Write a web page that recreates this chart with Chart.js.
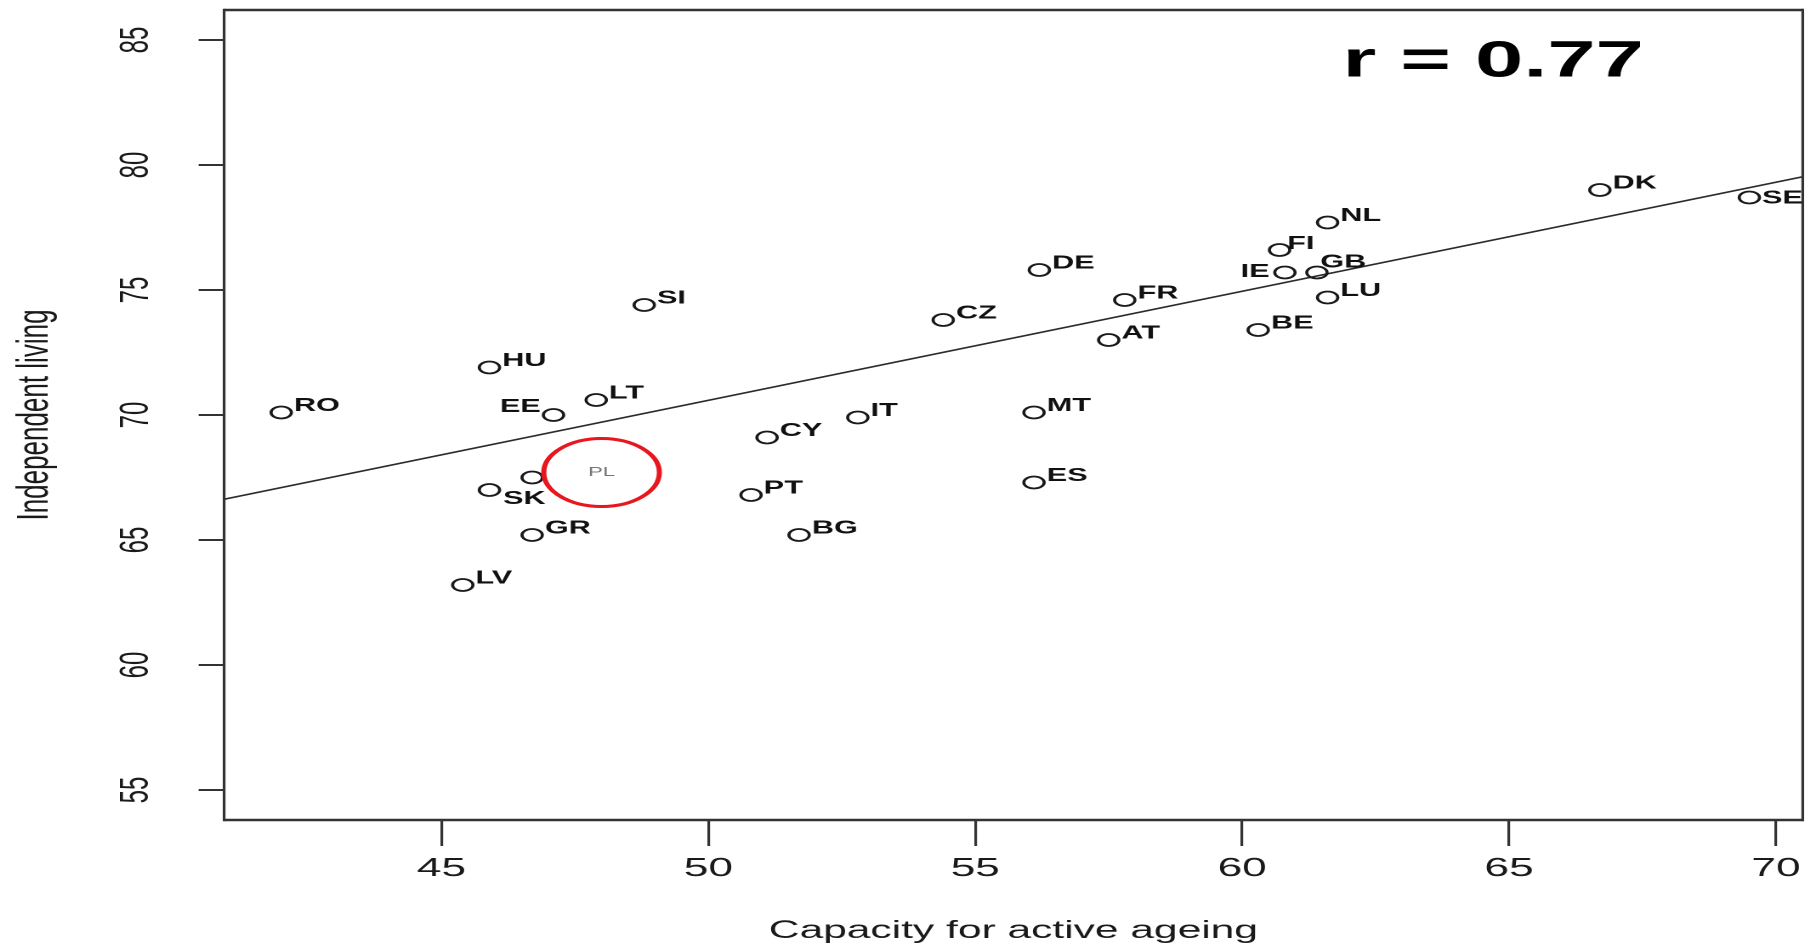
<!DOCTYPE html>
<html>
<head>
<meta charset="utf-8">
<title>Independent living vs capacity for active ageing</title>
<script src="https://cdn.jsdelivr.net/npm/chart.js@4.4.1/dist/chart.umd.min.js"></script>
<style>
  html, body { margin: 0; padding: 0; background: #fff; overflow: hidden; }
  #chart { display: block; }
</style>
</head>
<body>
<!-- the source picture is stretched sideways, so the canvas is drawn narrow and widened by css -->
<canvas id="chart" width="1068" height="946" style="width:1816px;height:946px"></canvas>
<script>
const countries = ['RO', 'HU', 'EE', 'LT', 'SI', 'PL', 'SK', 'GR', 'LV', 'CY', 'PT', 'BG', 'IT', 'CZ',
                   'DE', 'MT', 'ES', 'AT', 'FR', 'BE', 'IE', 'FI', 'GB', 'NL', 'LU', 'DK', 'SE'];
const capacity = [42.0, 45.9, 47.1, 47.9, 48.8, 46.7, 45.9, 46.7, 45.4, 51.1, 50.8, 51.7, 52.8, 54.4,
                  56.2, 56.1, 56.1, 57.5, 57.8, 60.3, 60.8, 60.7, 61.4, 61.6, 61.6, 66.7, 69.5];
const independentLiving = [70.1, 71.9, 70.0, 70.6, 74.4, 67.5, 67.0, 65.2, 63.2, 69.1, 66.8, 65.2, 69.9, 73.8,
                           75.8, 70.1, 67.3, 73.0, 74.6, 73.4, 75.7, 76.6, 75.7, 77.7, 74.7, 79.0, 78.7];
const xTicks = [45, 50, 55, 60, 65, 70];
const yTicks = [55, 60, 65, 70, 75, 80, 85];
const fitX = [40.93, 70.5];
const fitY = [66.63, 79.53];
const highlight = { code: 'PL', x: 48.0, y: 67.7 };
const rNote = { text: 'r = 0.77', x: 64.7, y: 84.1 };

const FONT = '"Liberation Sans", Arial, Helvetica, sans-serif';

// label placement next to the marker, most sit up and to the right
const defaultPlace = { dx: 7.5, dy: -1.7, align: 'left' };
const labelPlace = {
    EE: { dx: -7.5, dy: -3, align: 'right' },
    SK: { dx: 8, dy: 14, align: 'left' },
    IE: { dx: -9, dy: 4.5, align: 'right' },
    SE: { dx: 7.5, dy: 6, align: 'left' },
    GB: { dx: 2, dy: -5, align: 'left' },
    FI: { dx: 4.5, dy: -1, align: 'left' }
};

const annotate = {
    id: 'annotate',
    afterDatasetsDraw(chart) {
        const { ctx, chartArea: a, scales: { x, y } } = chart;
        ctx.save();

        // frame round the plot
        ctx.strokeStyle = '#333';
        ctx.lineWidth = 2.6;
        ctx.beginPath();
        ctx.moveTo(a.left, a.top); ctx.lineTo(a.right, a.top);
        ctx.moveTo(a.left, a.bottom); ctx.lineTo(a.right, a.bottom);
        ctx.stroke();
        ctx.lineWidth = 1.6;
        ctx.beginPath();
        ctx.moveTo(a.left, a.top - 1.3); ctx.lineTo(a.left, a.bottom + 1.3);
        ctx.moveTo(a.right, a.top - 1.3); ctx.lineTo(a.right, a.bottom + 1.3);
        ctx.stroke();

        // country codes
        ctx.fillStyle = '#111';
        ctx.font = 'bold 18px ' + FONT;
        ctx.textBaseline = 'alphabetic';
        countries.forEach((c, i) => {
            if (c === highlight.code) return;
            const p = labelPlace[c] || defaultPlace;
            ctx.textAlign = p.align;
            ctx.fillText(c, x.getPixelForValue(capacity[i]) + p.dx, y.getPixelForValue(independentLiving[i]) + p.dy);
        });

        // red ring with PL
        const hx = x.getPixelForValue(highlight.x);
        const hy = y.getPixelForValue(highlight.y);
        ctx.strokeStyle = '#e8161e';
        ctx.lineWidth = 3;
        ctx.beginPath();
        ctx.arc(hx, hy, 34, 0, Math.PI * 2);
        ctx.stroke();
        ctx.fillStyle = '#777';
        ctx.font = '13px ' + FONT;
        ctx.textAlign = 'center';
        ctx.textBaseline = 'middle';
        ctx.fillText(highlight.code, hx, hy);

        // correlation note
        ctx.fillStyle = '#000';
        ctx.font = 'bold 51px ' + FONT;
        ctx.fillText(rNote.text, x.getPixelForValue(rNote.x), y.getPixelForValue(rNote.y));

        ctx.restore();
    }
};

const points = capacity.map((v, i) => ({ x: v, y: independentLiving[i] }));
const fitLine = fitX.map((v, i) => ({ x: v, y: fitY[i] }));

new Chart(document.getElementById('chart'), {
    type: 'scatter',
    data: {
        datasets: [
            {
                data: points,
                pointStyle: 'circle',
                pointRadius: 6,
                pointBorderWidth: 1.8,
                pointBorderColor: '#1a1a1a',
                pointBackgroundColor: 'rgba(0,0,0,0)'
            },
            {
                data: fitLine,
                showLine: true,
                borderColor: '#2b2b2b',
                borderWidth: 1.6,
                pointRadius: 0
            }
        ]
    },
    options: {
        responsive: false,
        devicePixelRatio: 2,
        animation: false,
        layout: { padding: { left: 0, right: 5, top: 10, bottom: 0 } },
        plugins: { legend: { display: false }, tooltip: { enabled: false } },
        scales: {
            x: {
                type: 'linear',
                min: 40.93,
                max: 70.5,
                afterBuildTicks: s => { s.ticks = xTicks.map(v => ({ value: v })); },
                afterFit: s => { s.height = 126; s.paddingLeft = 0; s.paddingRight = 0; },
                border: { display: false },
                grid: { drawOnChartArea: false, drawTicks: true, tickLength: 26, color: '#333', lineWidth: 1.6 },
                ticks: { font: { size: 26, family: FONT }, color: '#1a1a1a', padding: 7, maxRotation: 0 },
                title: {
                    display: true,
                    text: 'Capacity for active ageing',
                    font: { size: 25, family: FONT },
                    color: '#1a1a1a',
                    padding: { top: 0, bottom: 0 }
                }
            },
            y: {
                type: 'linear',
                min: 53.8,
                max: 86.2,
                afterBuildTicks: s => { s.ticks = yTicks.map(v => ({ value: v })); },
                afterFit: s => { s.width = 131.8; s.paddingTop = 0; s.paddingBottom = 0; },
                border: { display: false },
                grid: { drawOnChartArea: false, drawTicks: true, tickLength: 15, color: '#333', lineWidth: 2 },
                ticks: {
                    font: { size: 24, family: FONT },
                    color: '#1a1a1a',
                    minRotation: 90,
                    maxRotation: 90,
                    crossAlign: 'center',
                    padding: 23
                },
                title: {
                    display: true,
                    text: 'Independent living',
                    font: { size: 26, family: FONT },
                    color: '#1a1a1a',
                    padding: { top: 5, bottom: 0 }
                }
            }
        }
    },
    plugins: [annotate]
});
</script>
</body>
</html>
